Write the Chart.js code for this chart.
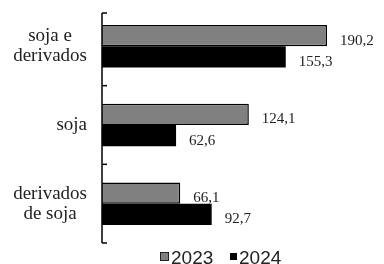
<!DOCTYPE html>
<html><head><meta charset="utf-8">
<script src="https://cdn.jsdelivr.net/npm/chart.js@4"></script>
<style>html,body{margin:0;padding:0;background:#fff}#wrap{width:384px;height:264px}</style>
</head><body><div id="wrap"><canvas id="c" width="384" height="264"></canvas></div>
<script>
const categories = [['soja e','derivados'], ['soja'], ['derivados','de soja']];
const seriesNames = ['2023', '2024'];
const values2023 = [190.2, 124.1, 66.1];
const values2024 = [155.3, 62.6, 92.7];
const valueLabels2023 = ['190,2', '124,1', '66,1'];
const valueLabels2024 = ['155,3', '62,6', '92,7'];

const fillColors = ['#808080', '#000000'];

const overlay = {
  id: 'overlay',
  afterDatasetsDraw(chart) {
    const ctx = chart.ctx;
    const ca = chart.chartArea;
    const y = chart.scales.y;
    ctx.save();
    ctx.strokeStyle = '#000';
    ctx.lineWidth = 1.5;
    ctx.beginPath();
    ctx.moveTo(ca.left, ca.top + 6);
    ctx.lineTo(ca.left, ca.bottom);
    ctx.stroke();
    for (let i = 0; i <= categories.length; i++) {
      let py = i === 0 ? ca.top + 6 : (i === categories.length ? ca.bottom : (y.getPixelForValue(i - 1) + y.getPixelForValue(i)) / 2);
      ctx.beginPath();
      ctx.moveTo(ca.left, py);
      ctx.lineTo(ca.left + 5, py);
      ctx.stroke();
    }
    ctx.fillStyle = '#222';
    ctx.font = '19px "Liberation Serif", serif';
    ctx.textBaseline = 'middle';
    ctx.textAlign = 'center';
    const lh = 20;
    categories.forEach((lines, i) => {
      const cy = y.getPixelForValue(i);
      const w = Math.max(...lines.map(l => ctx.measureText(l).width));
      const cx = 87 - w / 2;
      lines.forEach((l, k) => {
        ctx.fillText(l, cx, cy + (k - (lines.length - 1) / 2) * lh);
      });
    });
    ctx.font = '15px "Liberation Serif", serif';
    ctx.textAlign = 'left';
    const labs = [valueLabels2023, valueLabels2024];
    chart.data.datasets.forEach((ds, di) => {
      const meta = chart.getDatasetMeta(di);
      meta.data.forEach((bar, i) => {
        ctx.fillText(labs[di][i], bar.x + 13, bar.y + 5);
      });
    });
    ctx.font = '19px "Liberation Sans", Arial, sans-serif';
    ctx.textBaseline = 'alphabetic';
    ctx.fillStyle = '#808080';
    ctx.fillRect(160, 252, 9, 9);
    ctx.lineWidth = 1;
    ctx.strokeStyle = '#222';
    ctx.strokeRect(160.5, 252.5, 8, 8);
    ctx.fillStyle = '#222';
    ctx.fillText(seriesNames[0], 171, 264);
    ctx.fillStyle = '#000';
    ctx.fillRect(230, 253, 7, 7);
    ctx.fillStyle = '#222';
    ctx.fillText(seriesNames[1], 239, 264);
    ctx.restore();
  }
};

new Chart(document.getElementById('c'), {
  type: 'bar',
  data: {
    labels: categories,
    datasets: [
      { label: seriesNames[0], data: values2023, backgroundColor: fillColors[0], borderColor: '#000', borderWidth: 1.5, borderSkipped: 'left' },
      { label: seriesNames[1], data: values2024, backgroundColor: fillColors[1], borderWidth: 0 }
    ]
  },
  options: {
    indexAxis: 'y',
    responsive: false,
    animation: false,
    layout: { padding: { left: 102, right: 43, top: 7, bottom: 21 } },
    categoryPercentage: 0.54,
    barPercentage: 1,
    scales: {
      x: { display: false, min: 0, max: 202 },
      y: { display: false }
    },
    plugins: { legend: { display: false }, tooltip: { enabled: false } }
  },
  plugins: [overlay]
});
</script>
</body></html>
